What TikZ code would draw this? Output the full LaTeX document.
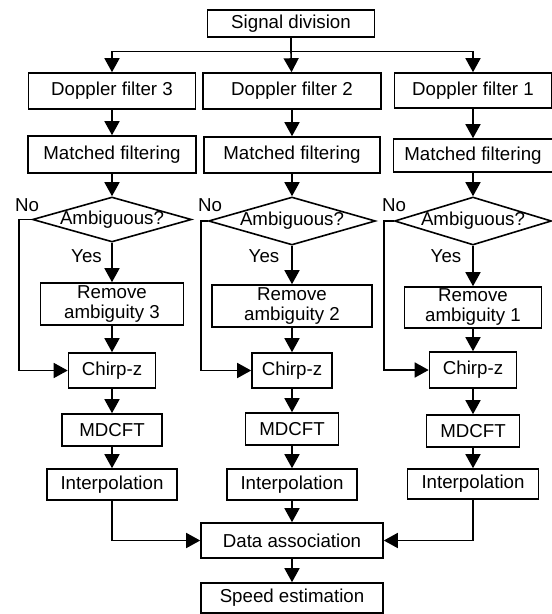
\documentclass[tikz,border=0pt]{standalone}
\usepackage{fontspec}
\setmainfont{Liberation Sans}
\usetikzlibrary{shapes.geometric,arrows.meta}
\tikzset{every picture/.style={line width=1.6pt}}
\tikzset{
  box/.style={draw, inner sep=0pt, align=center},
  decide/.style={draw, diamond, inner sep=0pt},
  flow/.style={-{Triangle[length=14pt,width=15pt]}},
  lbl/.style={inner sep=0pt}
}

\begin{document}
\begin{tikzpicture}[x=1pt,y=1pt,yscale=-1,xscale=1,font=\fontsize{18.7}{20}\selectfont]
\useasboundingbox (0,0) rectangle (552,614);

%Shape: Rectangle [top]
\node [box, minimum width=167pt, minimum height=27pt] (sig) at (291,23.5) {Signal division};
\coordinate (split) at (291,51.5);

%Shape: Rectangle [Doppler filters]
\node [box, minimum width=167pt, minimum height=36pt] (dop3) at (112,91) {Doppler filter 3};
\node [box, minimum width=178pt, minimum height=36pt] (dop2) at (292,91) {Doppler filter 2};
\node [box, minimum width=157pt, minimum height=35pt] (dop1) at (473,90.5) {Doppler filter 1};

%Shape: Rectangle [matched filtering]
\node [box, minimum width=168pt, minimum height=37pt] (mf3) at (112,154.5) {Matched filtering};
\node [box, minimum width=176pt, minimum height=36pt] (mf2) at (292,155) {Matched filtering};
\node [box, minimum width=159pt, minimum height=33pt] (mf1) at (473,155.5) {Matched filtering};

%Shape: Diamond
\node [decide, minimum width=159pt, minimum height=45pt, label={center:Ambiguous?}] (amb3) at (112,219.5) {};
\node [decide, minimum width=167pt, minimum height=48pt, label={center:Ambiguous?}] (amb2) at (292,221) {};
\node [decide, minimum width=157pt, minimum height=48pt, label={center:Ambiguous?}] (amb1) at (473,221) {};

%Shape: Rectangle [remove ambiguity]
\node [box, minimum width=143pt, minimum height=42pt] (rem3) at (112,304) {Remove\\ambiguity 3};
\node [box, minimum width=160pt, minimum height=42pt] (rem2) at (292,306) {Remove\\ambiguity 2};
\node [box, minimum width=137pt, minimum height=41pt] (rem1) at (473,307.5) {Remove\\ambiguity 1};

%Shape: Rectangle [chirp-z]
\node [box, minimum width=87pt, minimum height=35pt] (cz3) at (112,370.5) {Chirp-z};
\node [box, minimum width=80pt, minimum height=35pt] (cz2) at (292,370.5) {Chirp-z};
\node [box, minimum width=87pt, minimum height=36pt] (cz1) at (473,370) {Chirp-z};

%Shape: Rectangle [MDCFT]
\node [box, minimum width=100pt, minimum height=32pt] (md3) at (112,430) {MDCFT};
\node [box, minimum width=93pt, minimum height=32pt] (md2) at (292,429) {MDCFT};
\node [box, minimum width=93pt, minimum height=32pt] (md1) at (473,431) {MDCFT};

%Shape: Rectangle [interpolation]
\node [box, minimum width=130pt, minimum height=31pt] (ip3) at (112,484.5) {Interpolation};
\node [box, minimum width=130pt, minimum height=31pt] (ip2) at (292,484.5) {Interpolation};
\node [box, minimum width=131pt, minimum height=30pt] (ip1) at (473,484) {Interpolation};

%Shape: Rectangle [bottom]
\node [box, minimum width=182pt, minimum height=35pt] (assoc) at (292,540.5) {Data association};
\node [box, minimum width=182pt, minimum height=30pt] (speed) at (292,598) {Speed estimation};

% Text Node
\node [lbl] (no3) at (27,205) {No};
\node [lbl] (no2) at (210,205) {No};
\node [lbl] (no1) at (394,205) {No};
\node [lbl] (yes3) at (86.5,256) {Yes};
\node [lbl] (yes2) at (264,256) {Yes};
\node [lbl] (yes1) at (446,256) {Yes};

%Straight Lines [split]
\draw (sig) -- (split);
\draw [flow] (split) -| (dop3);
\draw [flow] (split) -- (dop2);
\draw [flow] (split) -| (dop1);

%Straight Lines [columns]
\draw [flow] (dop3) -- (mf3);
\draw [flow] (mf3) -- (amb3);
\draw [flow] (amb3) -- (rem3);
\draw [flow] (rem3) -- (cz3);
\draw [flow] (cz3) -- (md3);
\draw [flow] (md3) -- (ip3);
\draw [flow] (dop2) -- (mf2);
\draw [flow] (mf2) -- (amb2);
\draw [flow] (amb2) -- (rem2);
\draw [flow] (rem2) -- (cz2);
\draw [flow] (cz2) -- (md2);
\draw [flow] (md2) -- (ip2);
\draw [flow] (dop1) -- (mf1);
\draw [flow] (mf1) -- (amb1);
\draw [flow] (amb1) -- (rem1);
\draw [flow] (rem1) -- (cz1);
\draw [flow] (cz1) -- (md1);
\draw [flow] (md1) -- (ip1);

%Straight Lines [no branch]
\coordinate (byp3) at (19,219.5);
\coordinate (byp2) at (201,221);
\coordinate (byp1) at (384,221);
\draw [flow] (amb3.west) -- (byp3) |- (cz3);
\draw [flow] (amb2.west) -- (byp2) |- (cz2);
\draw [flow] (amb1.west) -- (byp1) |- (cz1);

%Straight Lines [merge]
\draw [flow] (ip3) |- (assoc);
\draw [flow] (ip2) -- (assoc);
\draw [flow] (ip1) |- (assoc);
\draw [flow] (assoc) -- (speed);

\end{tikzpicture}
\end{document}
